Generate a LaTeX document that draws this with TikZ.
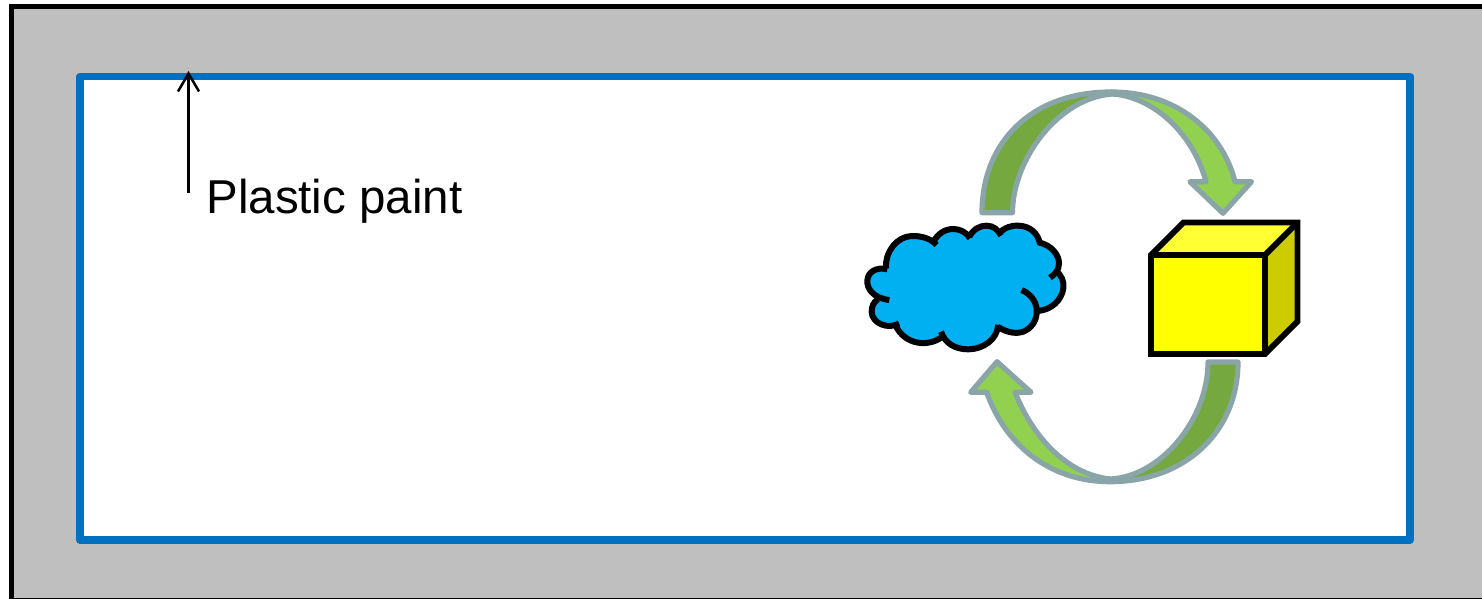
\documentclass[tikz,border=0pt]{standalone}
\usepackage{fontspec}
\setmainfont{Liberation Sans}
\usetikzlibrary{arrows.meta}
\definecolor{wallgray}{HTML}{BFBFBF}
\definecolor{paintblue}{HTML}{0070C0}
\definecolor{arrowedge}{HTML}{8AA5A8}
\definecolor{arrowdark}{HTML}{75A83F}
\definecolor{arrowlight}{HTML}{92D050}
\definecolor{cloudblue}{HTML}{00B0F0}
\definecolor{cubefront}{HTML}{FFFF00}
\definecolor{cubetop}{HTML}{FFFF33}
\definecolor{cubeside}{HTML}{CCCC00}
\tikzset{
  wall/.style={fill=wallgray,draw=black,line width=2.5pt},
  film/.style={fill=white,draw=paintblue,line width=3.8pt,line join=round},
  leader/.style={draw=black,line width=1.25pt,-{Straight Barb[length=9pt,width=10.5pt]}},
  bentedge/.style={draw=arrowedge,line width=2.6pt,line join=round},
  cubeline/.style={draw=black,line width=2.9pt,line join=miter},
  lobe/.style={draw=black,line width=3pt,line cap=butt},
  caption/.style={inner sep=0pt,anchor=base west,font=\fontsize{23.75pt}{28pt}\selectfont}
}
\begin{document}
\begin{tikzpicture}[x=0.5pt,y=-0.5pt]
\useasboundingbox (0,0) rectangle (1482,599);
\clip (0,0) rectangle (1482,599);
\fill[white] (0,0) rectangle (1482,599);
% wall and paint layer
\path[wall] (11,7) rectangle (1484,600);
\path[film] (80,76.5) rectangle (1410,540);
% label and leader
\node[caption] (label) at (206,213) {Plastic paint};
\coordinate (leaderstart) at (188.5,193);
\coordinate (leaderend) at (188.5,71);
\draw[leader] (leaderstart) -- (leaderend);
% upper curved arrow
\path[bentedge,fill=arrowdark] (982,212.7) .. controls (982,142) and (1032,91.5) .. (1112,92)
  -- (1112,94) .. controls (1058,98) and (1012.5,160) .. (1012.5,212.7) -- cycle;
\path[bentedge,fill=arrowlight] (1112,92) .. controls (1175,92) and (1222,130) .. (1235,181.7)
  -- (1251.5,181.7) -- (1223,213.3) -- (1190,181.7) -- (1206,181.7)
  .. controls (1192,130) and (1150,96) .. (1112,94) -- cycle;
% lower curved arrow
\path[bentedge,fill=arrowdark] (1238,362) .. controls (1238,432) and (1185,481.7) .. (1110,481.7)
  -- (1110,479) .. controls (1160,477) and (1208,420) .. (1208,362) -- cycle;
\path[bentedge,fill=arrowlight] (1110,481.7) .. controls (1050,481.7) and (1005,445) .. (986.7,392.3)
  -- (970.7,392.3) -- (997,361.7) -- (1031,392.3) -- (1015,392.3)
  .. controls (1032,435) and (1065,474) .. (1110,479) -- cycle;
% cloud
\begin{scope}[shift={(855,215)},x=0.16667pt,y=-0.16667pt]
\fill[cloudblue] (100,255) .. controls (55,250) and (35,220) .. (37,197)
  .. controls (38,170) and (65,155) .. (93,160)
  .. controls (90,110) and (125,65) .. (170,63)
  .. controls (200,62) and (225,68) .. (235,80)
  .. controls (250,55) and (270,42) .. (295,42)
  .. controls (315,42) and (335,52) .. (345,68)
  .. controls (355,42) and (375,32) .. (395,32)
  .. controls (415,32) and (425,42) .. (433,55)
  .. controls (450,38) and (470,30) .. (490,32)
  .. controls (525,33) and (548,55) .. (552,82)
  .. controls (590,90) and (612,120) .. (612,145)
  .. controls (612,150) and (608,160) .. (605,168)
  .. controls (620,180) and (628,200) .. (625,220)
  .. controls (620,255) and (590,285) .. (546,288)
  .. controls (540,345) and (490,375) .. (430,335)
  .. controls (425,375) and (385,402) .. (340,403)
  .. controls (300,403) and (270,385) .. (260,358)
  .. controls (225,395) and (150,395) .. (125,328)
  .. controls (100,345) and (50,325) .. (50,290)
  .. controls (50,275) and (55,262) .. (70,252) -- cycle;
\draw[lobe] (103,255) .. controls (55,250) and (35,220) .. (37,197) .. controls (38,170) and (65,155) .. (97,163);
\draw[lobe] (93,160) .. controls (90,110) and (125,65) .. (170,63) .. controls (200,62) and (230,72) .. (245,90);
\draw[lobe] (235,80) .. controls (250,55) and (270,42) .. (295,42) .. controls (315,42) and (335,52) .. (345,70);
\draw[lobe] (343,65) .. controls (355,42) and (375,32) .. (395,32) .. controls (415,32) and (430,45) .. (438,62);
\draw[lobe] (430,55) .. controls (450,38) and (470,30) .. (490,32) .. controls (525,33) and (550,55) .. (555,88);
\draw[lobe] (550,82) .. controls (590,90) and (612,120) .. (612,145) .. controls (612,165) and (600,178) .. (585,188);
\draw[lobe] (600,165) .. controls (620,180) and (628,200) .. (625,220) .. controls (620,255) and (590,285) .. (548,288);
\draw[lobe] (500,225) .. controls (530,238) and (548,265) .. (545,295) .. controls (540,345) and (490,375) .. (428,335);
\draw[lobe] (430,330) .. controls (425,375) and (385,402) .. (340,403) .. controls (300,403) and (270,385) .. (258,350);
\draw[lobe] (262,365) .. controls (225,395) and (150,395) .. (120,328);
\draw[lobe] (132,325) .. controls (100,345) and (50,325) .. (50,290) .. controls (50,275) and (55,262) .. (68,253);
\end{scope}
% cube
\fill[cubefront] (1151,255) rectangle (1265,354);
\fill[cubetop] (1151,255) -- (1183.5,222.5) -- (1297.5,222.5) -- (1265,255) -- cycle;
\fill[cubeside] (1265,255) -- (1297.5,222.5) -- (1297.5,321.5) -- (1265,354) -- cycle;
\path[cubeline] (1151,255) -- (1183.5,222.5) -- (1297.5,222.5) -- (1297.5,321.5) -- (1265,354) -- (1151,354) -- cycle;
\path[cubeline] (1151,255) -- (1265,255) -- (1297.5,222.5);
\path[cubeline] (1265,255) -- (1265,354);
\end{tikzpicture}
\end{document}
